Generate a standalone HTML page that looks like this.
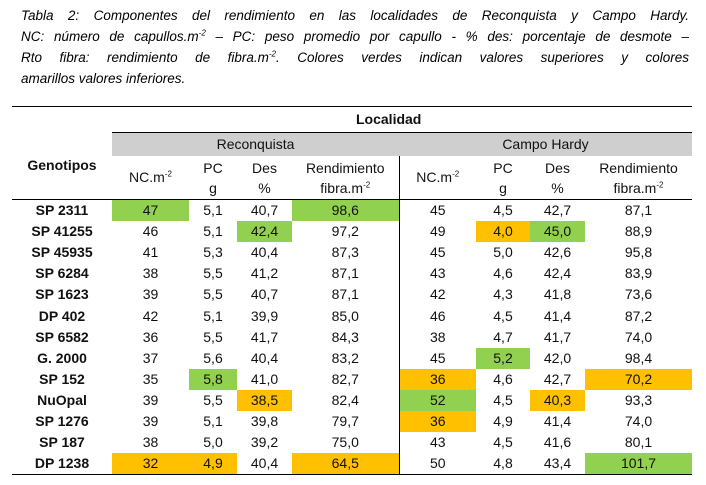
<!DOCTYPE html>
<html><head><meta charset="utf-8"><style>
body{margin:0;width:706px;height:485px;background:#fff;font-family:"Liberation Sans",sans-serif;color:#111;position:relative;overflow:hidden}
.cap{position:absolute;left:21px;top:5px;width:668px;font-style:italic;font-size:13.5px;color:#000}
.cap div{height:21px;line-height:21px;white-space:nowrap}
.j{text-align:justify;text-align-last:justify;white-space:normal!important}
.cap sup{font-size:8px;line-height:0}
table{position:absolute;left:12px;top:106px;border-collapse:collapse;table-layout:fixed;font-size:14px}
td{padding:0;text-align:center;height:21.1px;line-height:21px}
sup{font-size:8px;line-height:0}
.g{background:#92d050}.o{background:#ffc000}
.b{font-weight:bold}
.vl{border-left:1.5px solid #000}
</style></head><body>
<div class="cap">
<div class="j">Tabla 2: Componentes del rendimiento en las localidades de Reconquista y Campo Hardy.</div>
<div class="j">NC: número de capullos.m<sup>-2</sup> – PC: peso promedio por capullo - % des: porcentaje de desmote –</div>
<div class="j">Rto fibra: rendimiento de fibra.m<sup>-2</sup>. Colores verdes indican valores superiores y colores</div>
<div>amarillos valores inferiores.</div>
</div>
<table>
<colgroup><col style="width:100px"><col style="width:77px"><col style="width:48px"><col style="width:55px"><col style="width:107px"><col style="width:77px"><col style="width:54px"><col style="width:55px"><col style="width:107px"></colgroup>
<tr style="border-top:1.5px solid #000"><td style="height:25px"></td><td colspan="8" class="b" style="height:25px;border-bottom:1.5px solid #000;text-align:left;padding-left:244px">Localidad</td></tr>
<tr><td rowspan="2" class="b" style="border-bottom:1.5px solid #000">Genotipos</td><td colspan="4" style="background:#cfcfcf;height:23px">Reconquista</td><td colspan="4" style="background:#cfcfcf;height:23px">Campo Hardy</td></tr>
<tr style="border-bottom:1.5px solid #000"><td style="height:43px">NC.m<sup>-2</sup></td><td style="line-height:20px">PC<br>g</td><td style="line-height:20px">Des<br>%</td><td style="line-height:20px">Rendimiento<br>fibra.m<sup>-2</sup></td><td class="vl">NC.m<sup>-2</sup></td><td style="line-height:20px">PC<br>g</td><td style="line-height:20px">Des<br>%</td><td style="line-height:20px">Rendimiento<br>fibra.m<sup>-2</sup></td></tr>
<tr><td class="b">SP 2311</td><td class="g">47</td><td>5,1</td><td>40,7</td><td class="g">98,6</td><td class="vl">45</td><td>4,5</td><td>42,7</td><td>87,1</td></tr>
<tr><td class="b">SP 41255</td><td>46</td><td>5,1</td><td class="g">42,4</td><td>97,2</td><td class="vl">49</td><td class="o">4,0</td><td class="g">45,0</td><td>88,9</td></tr>
<tr><td class="b">SP 45935</td><td>41</td><td>5,3</td><td>40,4</td><td>87,3</td><td class="vl">45</td><td>5,0</td><td>42,6</td><td>95,8</td></tr>
<tr><td class="b">SP 6284</td><td>38</td><td>5,5</td><td>41,2</td><td>87,1</td><td class="vl">43</td><td>4,6</td><td>42,4</td><td>83,9</td></tr>
<tr><td class="b">SP 1623</td><td>39</td><td>5,5</td><td>40,7</td><td>87,1</td><td class="vl">42</td><td>4,3</td><td>41,8</td><td>73,6</td></tr>
<tr><td class="b">DP 402</td><td>42</td><td>5,1</td><td>39,9</td><td>85,0</td><td class="vl">46</td><td>4,5</td><td>41,4</td><td>87,2</td></tr>
<tr><td class="b">SP 6582</td><td>36</td><td>5,5</td><td>41,7</td><td>84,3</td><td class="vl">38</td><td>4,7</td><td>41,7</td><td>74,0</td></tr>
<tr><td class="b">G. 2000</td><td>37</td><td>5,6</td><td>40,4</td><td>83,2</td><td class="vl">45</td><td class="g">5,2</td><td>42,0</td><td>98,4</td></tr>
<tr><td class="b">SP 152</td><td>35</td><td class="g">5,8</td><td>41,0</td><td>82,7</td><td class="vl o">36</td><td>4,6</td><td>42,7</td><td class="o">70,2</td></tr>
<tr><td class="b">NuOpal</td><td>39</td><td>5,5</td><td class="o">38,5</td><td>82,4</td><td class="vl g">52</td><td>4,5</td><td class="o">40,3</td><td>93,3</td></tr>
<tr><td class="b">SP 1276</td><td>39</td><td>5,1</td><td>39,8</td><td>79,7</td><td class="vl o">36</td><td>4,9</td><td>41,4</td><td>74,0</td></tr>
<tr><td class="b">SP 187</td><td>38</td><td>5,0</td><td>39,2</td><td>75,0</td><td class="vl">43</td><td>4,5</td><td>41,6</td><td>80,1</td></tr>
<tr style="border-bottom:1.5px solid #000"><td class="b">DP 1238</td><td class="o">32</td><td class="o">4,9</td><td>40,4</td><td class="o">64,5</td><td class="vl">50</td><td>4,8</td><td>43,4</td><td class="g">101,7</td></tr>
</table>
</body></html>
